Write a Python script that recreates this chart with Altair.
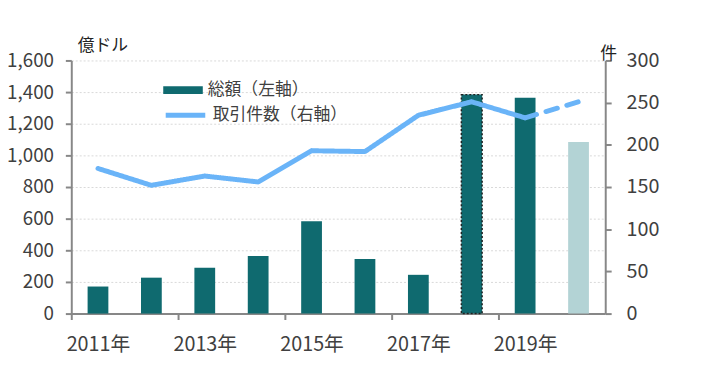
import altair as alt
import pandas as pd

years = ["2011", "2012", "2013", "2014", "2015", "2016", "2017", "2018", "2019", "2020"]
amounts = [171, 227, 289, 364, 583, 345, 245, 1384, 1365, 1085]
deals = [172, 152, 163, 156, 193, 192, 235, 251, 232, 251]
bar_groups = ["総額（左軸）"] * 9 + ["総額（2020年）"]
line_name = "取引件数（右軸）"
solid_years = years[:9]
dashed_years = years[8:]
x_label_years = ["2011", "2013", "2015", "2017", "2019"]

FONT = "Noto Sans CJK JP"
TEAL = "#0F6A6F"
LIGHT = "#B3D3D5"
BLUE = "#6AB4F8"
AXIS_C = "#878787"
LABEL_C = "#404040"
BAND = 54

bar_df = pd.DataFrame({"year": years, "amount": amounts, "group": bar_groups})

rows = []
for y, d in zip(years, deals):
    if y in solid_years:
        rows.append({"year": y, "deals": d, "seg": "actual", "series": line_name})
    if y in dashed_years:
        rows.append({"year": y, "deals": d, "seg": "forecast", "series": line_name})
line_df = pd.DataFrame(rows)

x_enc = alt.X(
    "year:N",
    sort=years,
    scale=alt.Scale(paddingInner=0, paddingOuter=0),
    axis=alt.Axis(
        values=x_label_years,
        labelExpr="datum.value + '年'",
        tickOffset=-BAND / 2,
        labelOffset=BAND / 2,
        title=None,
        labelAngle=0,
        labelFontSize=20,
        labelColor=LABEL_C,
        labelPadding=15,
        tickSize=6,
        tickWidth=2,
        tickColor=AXIS_C,
        domainColor=AXIS_C,
        domainWidth=2,
        grid=False,
    ),
)

bars = alt.Chart(bar_df).mark_bar(width=21, strokeDash=[2, 2], strokeWidth=1.5).encode(
    x=x_enc,
    y=alt.Y(
        "amount:Q",
        scale=alt.Scale(domain=[0, 1600], nice=False),
        axis=alt.Axis(
            values=list(range(0, 1601, 200)),
            format=",d",
            title="億ドル",
            titleAngle=0,
            titleX=6,
            titleY=-10,
            titleAlign="left",
            titleBaseline="alphabetic",
            titleFontSize=17,
            titleFontWeight="normal",
            titleColor="#222222",
            labelFontSize=19,
            labelColor=LABEL_C,
            labelPadding=12,
            tickSize=6,
            tickWidth=2,
            tickColor=AXIS_C,
            domainColor=AXIS_C,
            domainWidth=2,
            grid=True,
            gridColor="#D9D9D9",
            gridDash=[2, 2],
            gridWidth=1,
        ),
    ),
    fill=alt.Fill(
        "group:N",
        scale=alt.Scale(domain=["総額（左軸）", "総額（2020年）"], range=[TEAL, LIGHT]),
        legend=alt.Legend(
            values=["総額（左軸）"],
            orient="none",
            legendX=93,
            legendY=10,
            title=None,
            padding=0,
            symbolType="M-1,-0.2H1V0.2H-1Z",
            symbolSize=1600,
            symbolStrokeWidth=0,
            labelFontSize=17,
            labelColor=LABEL_C,
            labelOffset=5,
        ),
    ),
    stroke=alt.condition("datum.year == '2018'", alt.value("#222222"), alt.value("transparent")),
)

line = alt.Chart(line_df).mark_line(strokeWidth=5, strokeCap="round", strokeJoin="round").encode(
    x=alt.X("year:N", sort=years),
    y=alt.Y(
        "deals:Q",
        scale=alt.Scale(domain=[0, 300], nice=False),
        axis=alt.Axis(
            orient="right",
            values=list(range(0, 301, 50)),
            title="件",
            titleAngle=0,
            titleX=3,
            titleY=-2,
            titleAlign="center",
            titleBaseline="alphabetic",
            titleFontSize=17,
            titleFontWeight="normal",
            titleColor="#222222",
            labelFontSize=20,
            labelColor=LABEL_C,
            labelPadding=15,
            tickSize=6,
            tickWidth=2,
            tickColor=AXIS_C,
            domainColor=AXIS_C,
            domainWidth=2,
            grid=False,
        ),
    ),
    stroke=alt.Stroke(
        "series:N",
        scale=alt.Scale(domain=[line_name], range=[BLUE]),
        legend=alt.Legend(
            orient="none",
            legendX=93,
            legendY=33,
            title=None,
            padding=0,
            symbolType="stroke",
            symbolSize=1600,
            symbolStrokeWidth=5,
            labelFontSize=17,
            labelColor=LABEL_C,
            labelOffset=5,
        ),
    ),
    strokeDash=alt.StrokeDash(
        "seg:N",
        scale=alt.Scale(domain=["actual", "forecast"], range=[[1, 0], [12, 10]]),
        legend=None,
    ),
)

chart = (
    alt.layer(bars, line)
    .resolve_scale(y="independent")
    .properties(
        width=540,
        height=256,
        autosize=alt.AutoSizeParams(type="none"),
        padding={"left": 64, "top": 51, "right": 110, "bottom": 54},
    )
    .configure(font=FONT)
    .configure_view(stroke=None)
)

chart.save("out.html", embed_options={"renderer": "svg", "actions": False})
